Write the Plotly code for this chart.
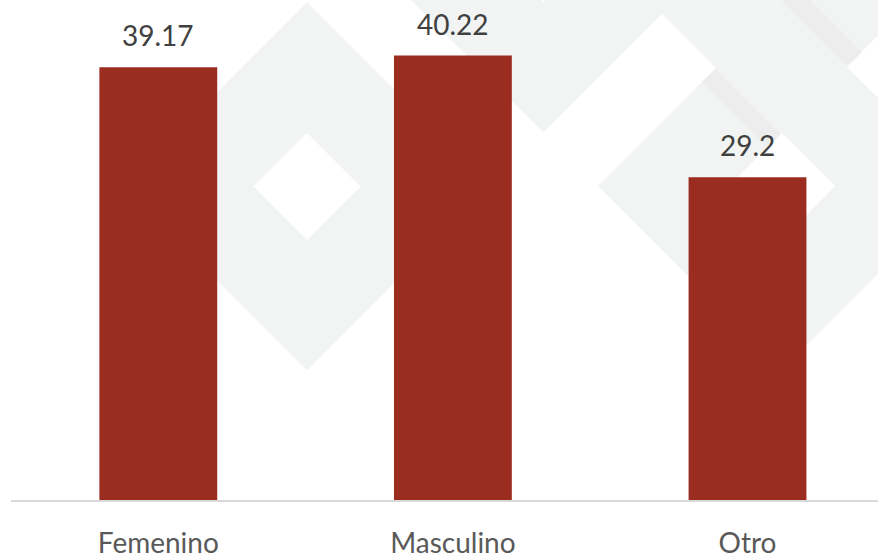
import plotly.graph_objects as go

categories = ["Femenino", "Masculino", "Otro"]
values = [39.17, 40.22, 29.2]
value_labels = ["39.17", "40.22", "29.2"]

# reference geometry (pixels of the 878x555 picture)
W, H = 878, 555
ML, MR, MT, MB = 11, 0, 0, 55
PW, PH = W - ML - MR, H - MT - MB

BAR_COLOR = "#9a2d20"
WM_COLOR = "#f2f4f3"
WM_DARK = "#ededed"
FONT = "Lato, 'Open Sans', sans-serif"


def px2paper(px, py):
    return (px - ML) / PW, (H - MB - py) / PH


def poly(points):
    pts = [px2paper(x, y) for x, y in points]
    return "M " + " L ".join(f"{x:.5f},{y:.5f}" for x, y in pts) + " Z"


def diamond(cx, cy, h, reverse=False):
    pts = [(cx, cy - h), (cx + h, cy), (cx, cy + h), (cx - h, cy)]
    if reverse:
        pts = pts[::-1]
    return pts


def ring(cx, cy, outer, inner):
    return poly(diamond(cx, cy, outer)) + " " + poly(diamond(cx, cy, inner, reverse=True))


shapes = []
for cx, cy in [(307, 186.5), (782, 186), (543.5, -51.5), (900, 67)]:
    shapes.append(dict(type="path", xref="paper", yref="paper", layer="below",
                       path=ring(cx, cy, 184, 53.5), fillcolor=WM_COLOR,
                       line=dict(width=0)))
shapes.append(dict(type="path", xref="paper", yref="paper", layer="below",
                   path=poly([(663, 15), (715.5, 67.5), (800, -17), (700, -80), (640, -20)]),
                   fillcolor=WM_COLOR, line=dict(width=0)))
shapes.append(dict(type="path", xref="paper", yref="paper", layer="below",
                   path=poly([(715.5, 68.5), (781, 134), (767.5, 147.5), (702, 82)]),
                   fillcolor=WM_DARK, line=dict(width=0)))
shapes.append(dict(type="path", xref="paper", yref="paper", layer="below",
                   path=poly([(847.5, 66.5), (862, 52), (755, -55), (740.5, -40.5)]),
                   fillcolor=WM_DARK, line=dict(width=0)))

fig = go.Figure()
fig.add_trace(go.Bar(
    x=categories, y=values,
    marker=dict(color=BAR_COLOR, line=dict(width=0)),
    hoverinfo="skip",
))

annotations = []
for c, v, t in zip(categories, values, value_labels):
    annotations.append(dict(x=c, y=v, xref="x", yref="y", text=t, showarrow=False,
                            yanchor="bottom", yshift=13,
                            font=dict(family=FONT, size=28, color="#404040")))

fig.update_layout(
    width=W, height=H, autosize=False,
    margin=dict(l=ML, r=MR, t=MT, b=MB, pad=0, autoexpand=False),
    paper_bgcolor="white", plot_bgcolor="rgba(0,0,0,0)",
    bargap=0.6,
    showlegend=False,
    shapes=shapes,
    annotations=annotations,
    xaxis=dict(range=[-0.5, -0.5 + PW / 294.6], showline=True, linecolor="#d9d9d9",
               linewidth=2, showgrid=False, zeroline=False, ticks="",
               automargin=False, ticklabelstandoff=17,
               tickfont=dict(family=FONT, size=28, color="#595959"), fixedrange=True),
    yaxis=dict(range=[0, PH / 11.05], visible=False, showgrid=False, zeroline=False,
               automargin=False),
)

fig.write_html("out.html", config={"displayModeBar": False},
               post_script="document.body.style.margin='0';document.body.style.overflow='hidden';")
